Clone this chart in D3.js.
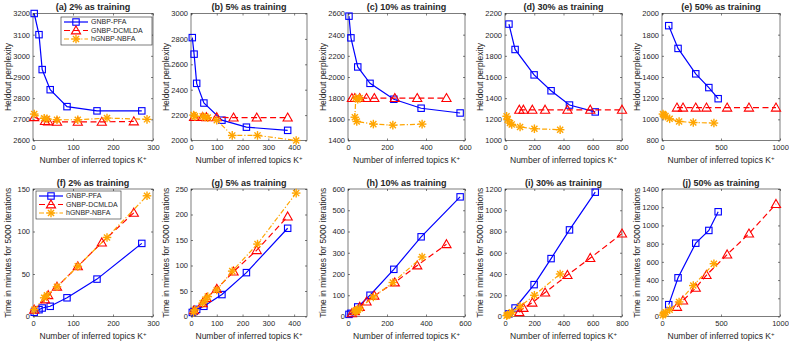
<!DOCTYPE html>
<html><head><meta charset="utf-8">
<script src="https://cdn.jsdelivr.net/npm/d3@7"></script>
<style>body{margin:0;background:#fff}svg text{font-family:"Liberation Sans",Arial,Helvetica,sans-serif;fill:#262626}</style>
</head><body><svg id="c" width="789" height="342"></svg>
<script>
// ---- data ----
const titlesTop = ["(a) 2% as training","(b) 5% as training","(c) 10% as training","(d) 30% as training","(e) 50% as training"];
const titlesBottom = ["(f) 2% as training","(g) 5% as training","(h) 10% as training","(i) 30% as training","(j) 50% as training"];
const seriesNames = ["GNBP-PFA","GNBP-DCMLDA","hGNBP-NBFA"];
const xMax = [300,450,600,800,1000];
const xTicks = [[0,100,200,300],[0,100,200,300,400],[0,200,400,600],[0,200,400,600,800],[0,500,1000]];
const perpDomain = [[2600,3200],[2000,3000],[1400,2600],[1000,2200],[800,2000]];
const perpTicks = [[2600,2700,2800,2900,3000,3100,3200],[2000,2200,2400,2600,2800,3000],[1400,1600,1800,2000,2200,2400,2600],[1000,1200,1400,1600,1800,2000,2200],[800,1000,1200,1400,1600,1800,2000]];
const timeDomain = [[0,150],[0,250],[0,600],[0,1200],[0,1400]];
const timeTicks = [[0,50,100,150],[0,50,100,150,200,250],[0,100,200,300,400,500,600],[0,200,400,600,800,1000,1200],[0,200,400,600,800,1000,1200,1400]];

const pfaK = [[3,15,23,43,85,160,272],[5,12,22,50,120,215,375],[5,15,50,113,235,375,575],[27,69,199,315,441,617],[57,136,286,397,476]];
const pfaPerp = [[3200,3100,2935,2840,2760,2740,2740],[2810,2680,2450,2295,2160,2105,2080],[2575,2370,2095,1940,1790,1705,1660],[2100,1860,1620,1470,1335,1270],[1885,1670,1430,1300,1195]];
const pfaTime = [[5,8,10,12,22,44,86],[8,10,14,20,43,86,173],[10,15,45,100,222,375,563],[25,80,300,545,815,1170],[130,425,805,945,1150]];

const dcmK = [[3,30,38,60,112,172,252],[12,45,60,100,165,255,375],[20,35,60,95,135,240,355,505],[98,126,187,274,427,583,800],[127,178,286,377,552,737,966]];
const dcmPerp = [[2710,2692,2690,2688,2688,2688,2690],[2185,2185,2183,2183,2180,2180,2180],[1800,1800,1800,1800,1800,1800,1800,1800],[1290,1290,1290,1290,1290,1290,1290],[1110,1110,1110,1110,1110,1110,1110]];
const dcmTime = [[8,20,25,35,59,87,122],[12,26,36,54,88,130,196],[15,25,45,70,98,160,240,340],[40,80,130,225,390,550,780],[105,175,315,455,680,910,1235]];

const nbfaK = [[3,28,35,60,112,185,285],[10,15,45,55,65,100,160,258,408],[60,50,40,35,45,130,230,380],[11,18,34,46,103,201,377],[8,16,30,65,145,265,440]];
const nbfaPerp = [[2725,2705,2702,2698,2698,2706,2700],[2200,2190,2190,2185,2180,2160,2040,2040,2000],[1800,1790,1800,1620,1580,1555,1545,1555],[1229,1197,1165,1152,1127,1111,1102],[1050,1040,1030,1005,980,970,965]];
const nbfaTime = [[8,22,25,35,59,93,142],[8,13,26,33,39,52,89,142,242],[38,32,28,22,28,92,160,280],[8,15,25,40,95,200,400],[15,30,45,75,160,340,580]];

// ---- layout / style ----
const lefts = [33,191,348,505,662];
const widths = [120,116,117,117,118];
const rows = [{top:13.5,bottom:140.5},{top:189,bottom:316.5}];
const colors = ["#0000ff","#ff0000","#ffa500"];
const dashes = [null,"6,3.5","5,2,1.2,2"];
const svg = d3.select("#c");

function marker(g, type, color, cx, cy){
  if(type===0){
    g.append("rect").attr("x",cx-3.2).attr("y",cy-3.2).attr("width",6.4).attr("height",6.4)
      .attr("fill","none").attr("stroke",color).attr("stroke-width",1.1);
  } else if(type===1){
    g.append("path").attr("d",`M${cx},${cy-4.6}L${cx+4.6},${cy+3.4}L${cx-4.6},${cy+3.4}Z`)
      .attr("fill","none").attr("stroke",color).attr("stroke-width",1.1);
  } else {
    const r=4.3;
    for(let a=0;a<4;a++){
      const t=a*Math.PI/4;
      g.append("line").attr("x1",cx-r*Math.cos(t)).attr("y1",cy-r*Math.sin(t))
        .attr("x2",cx+r*Math.cos(t)).attr("y2",cy+r*Math.sin(t))
        .attr("stroke",color).attr("stroke-width",1.4);
    }
  }
}

function panel(row, i){
  const r = rows[row];
  const L = lefts[i], R = lefts[i]+widths[i];
  const x = d3.scaleLinear().domain([0,xMax[i]]).range([L,R]);
  const y = d3.scaleLinear().domain(row===0?perpDomain[i]:timeDomain[i]).range([r.bottom,r.top]);
  const g = svg.append("g");
  g.append("rect").attr("x",L).attr("y",r.top).attr("width",R-L).attr("height",r.bottom-r.top)
    .attr("fill","#fff");
  const ax = (sel)=>{sel.select(".domain").remove();sel.selectAll("line").attr("stroke","#262626").attr("stroke-width",0.6);
    sel.selectAll("text").style("font-size","7.5px").attr("fill","#262626");};
  g.append("g").attr("transform",`translate(0,${r.bottom})`)
    .call(d3.axisBottom(x).tickValues(xTicks[i]).tickSize(-2).tickPadding(4).tickFormat(d3.format("d"))).call(ax);
  g.append("g").attr("transform",`translate(0,${r.top})`)
    .call(d3.axisTop(x).tickValues(xTicks[i]).tickSize(-2).tickFormat("")).call(ax);
  g.append("g").attr("transform",`translate(${L},0)`)
    .call(d3.axisLeft(y).tickValues(row===0?perpTicks[i]:timeTicks[i]).tickSize(-2).tickPadding(3).tickFormat(d3.format("d"))).call(ax);
  g.append("g").attr("transform",`translate(${R},0)`)
    .call(d3.axisRight(y).tickValues(row===0?perpTicks[i]:timeTicks[i]).tickSize(-2).tickFormat("")).call(ax);
  g.append("rect").attr("x",L).attr("y",r.top).attr("width",R-L).attr("height",r.bottom-r.top)
    .attr("fill","none").attr("stroke","#262626").attr("stroke-width",0.6);

  const Ks=[pfaK[i],dcmK[i],nbfaK[i]];
  const Vs= row===0 ? [pfaPerp[i],dcmPerp[i],nbfaPerp[i]] : [pfaTime[i],dcmTime[i],nbfaTime[i]];
  const line=d3.line().x(d=>x(d[0])).y(d=>y(d[1]));
  for(let s=0;s<3;s++){
    const pts=Ks[s].map((k,j)=>[k,Vs[s][j]]);
    const sg=g.append("g");
    sg.append("path").attr("d",line(pts)).attr("fill","none").attr("stroke",colors[s])
      .attr("stroke-width",1.2).attr("stroke-dasharray",dashes[s]);
    pts.forEach(p=>marker(sg,s,colors[s],x(p[0]),y(p[1])));
  }
  // title
  g.append("text").attr("x",(L+R)/2).attr("y",r.top-3.5).attr("text-anchor","middle")
    .style("font-size","9px").style("font-weight","bold").text(row===0?titlesTop[i]:titlesBottom[i]);
  // x label
  const xl=g.append("text").attr("x",(L+R)/2).attr("y",r.bottom+22.5).attr("text-anchor","middle").style("font-size","8.5px");
  xl.append("tspan").text("Number of inferred topics K");
  xl.append("tspan").attr("dy",-3).style("font-size","6px").text("+");
  // y label
  g.append("text").attr("transform",`translate(${L-22},${(r.top+r.bottom)/2}) rotate(-90)`)
    .attr("text-anchor","middle").style("font-size","8.5px")
    .text(row===0?"Heldout perplexity":"Time in minutes for 5000 iterations");

  if(i===0){
    const lg=[{x:61,y:17,w:91,h:28},{x:36,y:191,w:85,h:28}][row];
    const gg=g.append("g");
    gg.append("rect").attr("x",lg.x).attr("y",lg.y).attr("width",lg.w).attr("height",lg.h)
      .attr("fill","#fff").attr("stroke","#262626").attr("stroke-width",0.6);
    seriesNames.forEach((nm,s)=>{
      const yy=lg.y+5+s*8.5;
      gg.append("line").attr("x1",lg.x+3).attr("x2",lg.x+27).attr("y1",yy).attr("y2",yy)
        .attr("stroke",colors[s]).attr("stroke-width",1.2).attr("stroke-dasharray",dashes[s]);
      marker(gg,s,colors[s],lg.x+15,yy);
      gg.append("text").attr("x",lg.x+30).attr("y",yy).attr("dy","0.35em").style("font-size","7px").text(nm);
    });
  }
}
for(let row=0;row<2;row++) for(let i=0;i<5;i++) panel(row,i);
</script></body></html>
